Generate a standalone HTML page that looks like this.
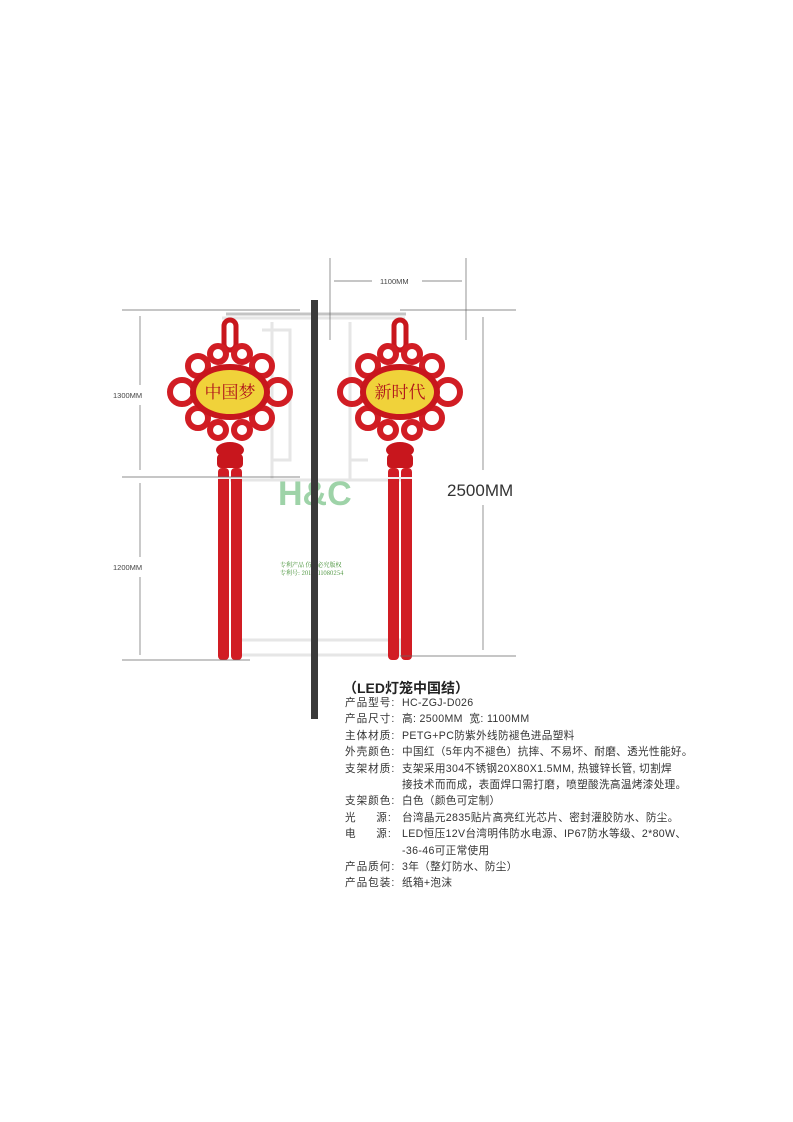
<!DOCTYPE html>
<html><head><meta charset="utf-8"><style>
html,body{margin:0;padding:0;background:#fff;}
body{width:793px;height:1122px;position:relative;overflow:hidden;font-family:"Liberation Sans","Noto Sans CJK SC",sans-serif;}
svg{position:absolute;left:0;top:0;}
.t{position:absolute;left:345px;font-size:10.6px;letter-spacing:0.35px;color:#333;line-height:16.4px;white-space:nowrap;}
.t div{display:flex;}
.t b{font-weight:normal;width:57px;flex:none;letter-spacing:1px;}
</style></head><body>
<svg width="793" height="1122" viewBox="0 0 793 1122">
<defs>
<g id="knot">
 <rect x="-6" y="-72" width="12" height="30" rx="6" fill="none" stroke="#c8161d" stroke-width="5"/>
 <g fill="none" stroke="#d11d24" stroke-width="6">
  <circle cx="-48" cy="0" r="12"/><circle cx="48" cy="0" r="12"/>
  <circle cx="-32" cy="-26" r="10"/><circle cx="32" cy="-26" r="10"/>
  <circle cx="-32" cy="26" r="10"/><circle cx="32" cy="26" r="10"/>
  <circle cx="-12" cy="-38" r="8"/><circle cx="12" cy="-38" r="8"/>
  <circle cx="-12" cy="38" r="8"/><circle cx="12" cy="38" r="8"/>
 </g>
 <ellipse cx="0" cy="0" rx="40" ry="28" fill="#c8161d"/>
 <ellipse cx="0" cy="0" rx="34" ry="22" fill="#f0d23a"/>
 <ellipse cx="0" cy="58" rx="14" ry="8" fill="#c8161d"/>
 <rect x="-13" y="62" width="26" height="14" rx="4" fill="#c8161d"/>
 <rect x="-12" y="76" width="11" height="192" rx="4" fill="#d11d24"/>
 <rect x="1" y="76" width="11" height="192" rx="4" fill="#d11d24"/>
 <line x1="-12" y1="86" x2="12" y2="86" stroke="#eee" stroke-width="2"/>
</g>
</defs>
<g fill="none" stroke="#e6e6e6" stroke-width="3">
 <path d="M222 318 H405 M272 322 V480 M350 322 V480 M230 480 H410"/>
 <path d="M262 330 H290 V345 M290 340 V460 H272 M350 340 V460 H368"/>
 <path d="M240 640 H400 V655 H240 Z"/>
</g>
<line x1="226" y1="314" x2="406" y2="314" stroke="#c4c4c4" stroke-width="3"/>
<text x="278" y="505" font-family="Liberation Sans" font-weight="bold" font-size="34" fill="#9ed3a8">H&amp;C</text>
<text x="280" y="567" font-size="6" fill="#3a8a2a" font-family="Noto Serif CJK SC,serif">专利产品 仿冒必究版权</text>
<text x="280" y="575" font-size="6" fill="#3a8a2a" font-family="Noto Serif CJK SC,serif">专利号: 2016211080254</text>
<rect x="311" y="300" width="7" height="419" fill="#3a3a3a"/>
<use href="#knot" transform="translate(230,392)"/>
<use href="#knot" transform="translate(400,392)"/>
<text x="230" y="398" text-anchor="middle" font-size="17" fill="#b0141a" font-family="Noto Serif CJK SC,serif">中国梦</text>
<text x="400" y="398" text-anchor="middle" font-size="17" fill="#b0141a" font-family="Noto Serif CJK SC,serif">新时代</text>
<g stroke="#666" stroke-width="0.7" fill="none">
 <line x1="122" y1="310" x2="300" y2="310"/>
 <line x1="122" y1="477" x2="300" y2="477"/>
 <line x1="122" y1="660" x2="250" y2="660"/>
 <line x1="140" y1="316" x2="140" y2="385"/><line x1="140" y1="405" x2="140" y2="470"/>
 <line x1="140" y1="483" x2="140" y2="557"/><line x1="140" y1="577" x2="140" y2="655"/>
 <line x1="330" y1="258" x2="330" y2="340"/><line x1="466" y1="258" x2="466" y2="340"/>
 <line x1="334" y1="281" x2="372" y2="281"/><line x1="422" y1="281" x2="462" y2="281"/>
 <line x1="400" y1="310" x2="516" y2="310"/>
 <line x1="400" y1="656" x2="516" y2="656"/>
 <line x1="483" y1="317" x2="483" y2="470"/><line x1="483" y1="505" x2="483" y2="650"/>
</g>
<text x="113" y="398" font-size="7.5" fill="#444">1300MM</text>
<text x="113" y="570" font-size="7.5" fill="#444">1200MM</text>
<text x="380" y="284" font-size="7.5" fill="#444">1100MM</text>
<text x="447" y="496" font-size="17" fill="#333">2500MM</text>
</svg>
<div style="position:absolute;left:343px;top:678px;font-size:14px;font-weight:bold;color:#222;">（LED灯笼中国结）</div>
<div class="t" style="top:695px;">
<div><b>产品型号:</b>HC-ZGJ-D026</div>
<div><b>产品尺寸:</b>高: 2500MM&nbsp;&nbsp;宽: 1100MM</div>
<div><b>主体材质:</b>PETG+PC防紫外线防褪色进品塑料</div>
<div><b>外壳颜色:</b>中国红（5年内不褪色）抗摔、不易坏、耐磨、透光性能好。</div>
<div><b>支架材质:</b>支架采用304不锈钢20X80X1.5MM, 热镀锌长管, 切割焊</div>
<div><b></b>接技术而而成，表面焊口需打磨，喷塑酸洗高温烤漆处理。</div>
<div><b>支架颜色:</b>白色（颜色可定制）</div>
<div><b>光&nbsp;&nbsp;&nbsp;&nbsp;&nbsp;源:</b>台湾晶元2835贴片高亮红光芯片、密封灌胶防水、防尘。</div>
<div><b>电&nbsp;&nbsp;&nbsp;&nbsp;&nbsp;源:</b>LED恒压12V台湾明伟防水电源、IP67防水等级、2*80W、</div>
<div><b></b>-36-46可正常使用</div>
<div><b>产品质何:</b>3年（整灯防水、防尘）</div>
<div><b>产品包装:</b>纸箱+泡沫</div>
</div>
</body></html>
